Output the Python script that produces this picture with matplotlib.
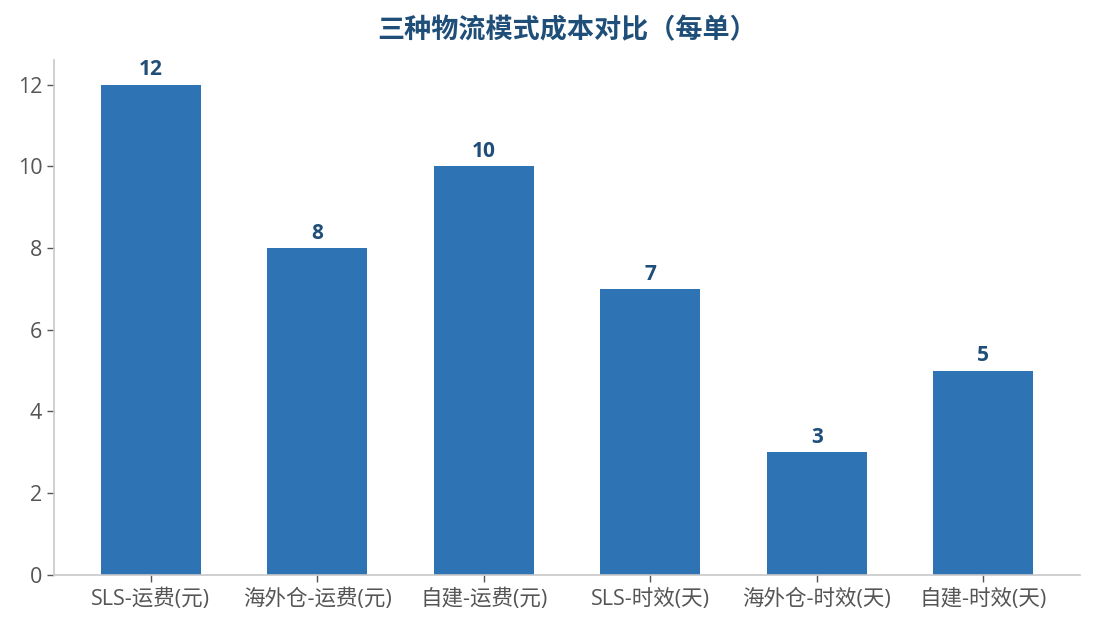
import matplotlib
matplotlib.use("Agg")
import matplotlib.pyplot as plt
from matplotlib.transforms import blended_transform_factory

plt.rcParams["font.family"] = ["Open Sans", "Noto Sans CJK SC", "DejaVu Sans"]

categories = ["SLS-运费(元)", "海外仓-运费(元)", "自建-运费(元)",
              "SLS-时效(天)", "海外仓-时效(天)", "自建-时效(天)"]
values = [12, 8, 10, 7, 3, 5]
title = "三种物流模式成本对比（每单）"

bar_color = "#2E74B5"
label_color = "#1F4E79"

fig = plt.figure(figsize=(10.95, 6.29), dpi=100)
ax = fig.add_axes([0.0493, 0.0859, 0.937, 0.8187])

x = range(len(categories))
bars = ax.bar(x, values, width=0.6, color=bar_color)

for b, v in zip(bars, values):
    ax.annotate(str(v), (b.get_x() + b.get_width() / 2, v),
                xytext=(0, 3), textcoords="offset points",
                ha="center", va="bottom", fontsize=15,
                fontweight="bold", color=label_color)

ax.set_xticks(list(x))
ax.set_xticklabels(categories)
ax.set_ylim(0, 12.6)
ax.set_yticks(range(0, 13, 2))

for s in ["top", "right"]:
    ax.spines[s].set_visible(False)
for s in ["left", "bottom"]:
    ax.spines[s].set_color("#c8c8c8")
    ax.spines[s].set_linewidth(1.2)

ax.tick_params(axis="both", colors="#555555", labelsize=15.5, length=5, width=1)
ax.tick_params(axis="x", pad=5)

# title centred over the plot area, placed in figure height
trans = blended_transform_factory(ax.transAxes, fig.transFigure)
ax.text(0.5, 0.95, title, transform=trans, ha="center", va="center",
        fontsize=19.5, fontweight="bold", color=label_color)

fig.savefig("out.png", dpi=100)
plt.close(fig)
